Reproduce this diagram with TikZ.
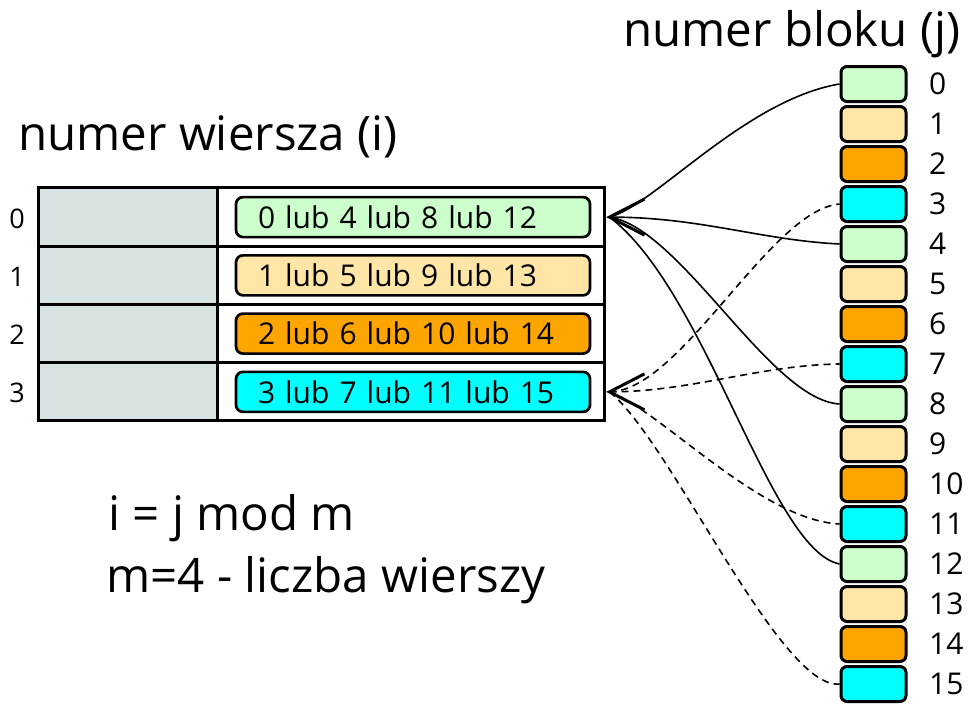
\documentclass[tikz,border=0pt]{standalone}
\usepackage{fontspec}
\setmainfont{Open Sans}

\definecolor{cgreen}{RGB}{204,255,204}
\definecolor{cpeach}{RGB}{255,230,166}
\definecolor{corange}{RGB}{255,165,0}
\definecolor{ccyan}{RGB}{0,255,255}
\definecolor{cgray}{RGB}{215,227,227}

\begin{document}
\begin{tikzpicture}[x=1pt,y=-1pt,
  leftcell/.style={draw, line width=3pt, fill=cgray, inner sep=0pt,
    minimum width=179pt, minimum height=58.25pt},
  rightcell/.style={draw, line width=3pt, fill=white, inner sep=0pt,
    minimum width=387pt, minimum height=58.25pt},
  inbox/.style={draw, line width=2.7pt, rounded corners=7pt, inner xsep=22pt,
    inner ysep=0pt, text width=310pt, align=left, minimum height=40pt,
    font=\fontsize{30}{35}\selectfont},
  blk/.style={draw, line width=3pt, rounded corners=6pt, inner sep=0pt,
    minimum width=65pt, minimum height=35pt},
  jlab/.style={anchor=west, inner sep=0pt, font=\fontsize{30}{35}\selectfont},
  rlab/.style={inner sep=0pt, font=\fontsize{27}{32}\selectfont},
  bigtext/.style={anchor=base west, inner sep=0pt, font=\fontsize{47.5}{57}\selectfont},
  conn/.style={line width=1.6pt},
  dashline/.style={dash pattern=on 7pt off 5pt},
  vhead/.style={line width=3pt, miter limit=20}
]
\useasboundingbox (0,0) rectangle (969,704);

% table: grey index column and white content column
\foreach \i in {0,...,3} {
  \node[leftcell] (L\i) at (127.5,{217.1+58.25*\i}) {};
  \node[rightcell] (R\i) at (410.5,{217.1+58.25*\i}) {};
  \node[rlab] (N\i) at (17,{218.5+58.25*\i}) {\i};
}

% row contents
\node[inbox, fill=cgreen]  (T0) at (413,217.1) {0 lub 4 lub 8 lub 12};
\node[inbox, fill=cpeach]  (T1) at (413,275.35) {1 lub 5 lub 9 lub 13};
\node[inbox, fill=corange] (T2) at (413,333.6) {2 lub 6 lub 10 lub 14};
\node[inbox, fill=ccyan]   (T3) at (413,391.85) {3 lub 7 lub 11 lub 15};

% memory blocks
\foreach \j [evaluate=\j as \m using {int(mod(\j,4))}] in {0,...,15} {
  \ifcase\m \def\bc{cgreen}\or \def\bc{cpeach}\or \def\bc{corange}\or \def\bc{ccyan}\fi
  \node[blk, fill=\bc] (B\j) at (873.5,{84+40*\j}) {};
  \node[jlab] (J\j) at (929,{84+40*\j}) {\j};
}

% captions
\node[bigtext] (tb) at (623,46) {numer bloku (j)};
\node[bigtext] (tw) at (18,150) {numer wiersza (i)};
\node[bigtext] (f1) at (108,530) {i = j mod m};
\node[bigtext] (f2) at (106,592) {m=4 - liczba wierszy};

% entry points of the connectors on the table, and the open arrow heads there
\coordinate (in0) at ([xshift=4pt]R0.east);
\coordinate (in3) at ([xshift=4pt]R3.east);
\coordinate (h0a) at ([shift={(35,-18)}]in0);
\coordinate (h0b) at ([shift={(35,18)}]in0);
\coordinate (h3a) at ([shift={(35,-18)}]in3);
\coordinate (h3b) at ([shift={(35,18)}]in3);

% blocks mapped to row 0
\draw[conn] (in0) .. controls (655,205) and (745,100) .. (B0.west);
\draw[conn] (in0) .. controls (700,217) and (760,240) .. (B4.west);
\draw[conn] (in0) .. controls (681,228) and (770,400) .. (B8.west);
\draw[conn] (in0) .. controls (707,291) and (770,550) .. (B12.west);
\draw[vhead] (h0a) -- (in0) -- (h0b);

% blocks mapped to row 3
\draw[conn, dashline] (in3) .. controls (681,391) and (770,210) .. (B3.west);
\draw[conn, dashline] (in3) .. controls (690,392) and (760,365) .. (B7.west);
\draw[conn, dashline] (in3) .. controls (660,410) and (760,520) .. (B11.west);
\draw[conn, dashline] (in3) .. controls (670,440) and (780,690) .. (B15.west);
\draw[vhead] (h3a) -- (in3) -- (h3b);
\end{tikzpicture}
\end{document}
